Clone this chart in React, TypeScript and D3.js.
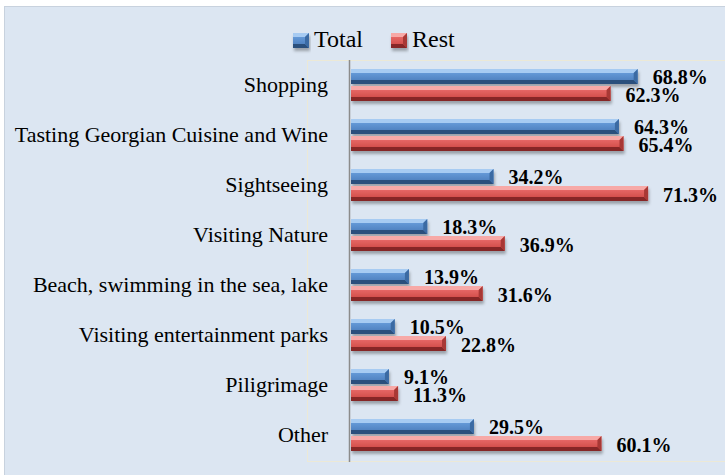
import React from "react";
import * as d3 from "d3";

const categories = [
  "Shopping",
  "Tasting Georgian Cuisine and Wine",
  "Sightseeing",
  "Visiting Nature",
  "Beach, swimming in the sea, lake",
  "Visiting entertainment parks",
  "Piligrimage",
  "Other",
];
const seriesNames = ["Total", "Rest"];
const totalValues = [68.8, 64.3, 34.2, 18.3, 13.9, 10.5, 9.1, 29.5];
const restValues = [62.3, 65.4, 71.3, 36.9, 31.6, 22.8, 11.3, 60.1];

const W = 725;
const H = 475;
const FONT = '"Liberation Serif", "DejaVu Serif", serif';

const palettes: Record<string, any> = {
  Total: {
    edgeTop: "#a7cbf2",
    faceTop: "#6fa5e3",
    faceBot: "#4677b6",
    edgeBot: "#2c4f7c",
    right: "#3b6aa3",
  },
  Rest: {
    edgeTop: "#f7a9a7",
    faceTop: "#f07472",
    faceBot: "#c9423f",
    edgeBot: "#862826",
    right: "#a83734",
  },
};

function BevelRect({ x0, x1, y, h, name }: any) {
  const p = palettes[name];
  const b = Math.min(4, (x1 - x0) / 2, h / 3);
  const pts = (a: number[][]) => a.map((q) => q.join(",")).join(" ");
  return (
    <g filter="url(#shadow)">
      <rect x={x0} y={y} width={x1 - x0} height={h} fill={`url(#face-${name})`} />
      <polygon
        points={pts([[x0, y], [x1, y], [x1 - b, y + b], [x0, y + b]])}
        fill={p.edgeTop}
      />
      <polygon
        points={pts([[x0, y + h], [x1, y + h], [x1 - b, y + h - b], [x0, y + h - b]])}
        fill={p.edgeBot}
      />
      <polygon
        points={pts([[x1, y], [x1, y + h], [x1 - b, y + h - b], [x1 - b, y + b]])}
        fill={p.right}
      />
    </g>
  );
}

export default function App() {
  const x = d3.scaleLinear().domain([0, 90]).range([351, 726]);
  const y = d3
    .scaleBand<string>()
    .domain(categories)
    .range([60, 460])
    .paddingInner(0.36)
    .paddingOuter(0.18);
  const inner = d3
    .scaleBand<string>()
    .domain(seriesNames)
    .range([0, y.bandwidth()])
    .paddingInner(0.12);

  const data = [totalValues, restValues];
  const textStyle = { fontFamily: FONT };

  return (
    <svg
      width={W}
      height={H}
      style={{ position: "absolute", left: 0, top: 0, fontFamily: FONT }}
    >
      <defs>
        {seriesNames.map((n) => (
          <linearGradient key={n} id={`face-${n}`} x1="0" y1="0" x2="0" y2="1">
            <stop offset="0" stopColor={palettes[n].faceTop} />
            <stop offset="1" stopColor={palettes[n].faceBot} />
          </linearGradient>
        ))}
        <filter id="shadow" x="-10%" y="-50%" width="120%" height="220%">
          <feDropShadow dx="1" dy="3" stdDeviation="1.6" floodColor="#000" floodOpacity="0.3" />
        </filter>
      </defs>
      <rect x={4.5} y={6.5} width={W} height={H} fill="#dce6f2" stroke="#c8d2de" strokeWidth={1} />
      {/* plot area border */}
      <rect x={307.5} y={60.5} width={430} height={401} fill="none" stroke="#ece9d6" strokeWidth={1} />

      {/* legend */}
      <g>
        <BevelRect x0={293} x1={309} y={33} h={15} name="Total" />
        <text x={314} y={47} fontSize={24} fill="#000" style={textStyle}>Total</text>
        <BevelRect x0={391} x1={407} y={33} h={15} name="Rest" />
        <text x={412} y={47} fontSize={24} fill="#000" style={textStyle}>Rest</text>
      </g>

      {/* category labels */}
      {categories.map((c) => (
        <text
          key={c}
          x={328}
          y={(y(c) as number) + y.bandwidth() / 2 + 7}
          textAnchor="end"
          fontSize={22}
          fill="#000"
          style={textStyle}
        >
          {c}
        </text>
      ))}

      {/* bars */}
      {categories.map((c, i) =>
        seriesNames.map((s, k) => {
          const v = data[k][i];
          const by = (y(c) as number) + (inner(s) as number);
          const bh = inner.bandwidth();
          return (
            <BevelRect key={c + s} x0={x(0)} x1={x(v)} y={by} h={bh} name={s} />
          );
        })
      )}

      {/* axis line */}
      <line x1={349.5} x2={349.5} y1={60} y2={462} stroke="#8c8c8c" strokeWidth={1.5} />

      {/* value labels */}
      {categories.map((c, i) =>
        seriesNames.map((s, k) => {
          const v = data[k][i];
          const by = (y(c) as number) + (inner(s) as number);
          const bh = inner.bandwidth();
          return (
            <text
              key={"l" + c + s}
              x={x(v) + 15}
              y={by + bh / 2 + 8}
              fontSize={20}
              fontWeight="bold"
              fill="#000"
              style={textStyle}
            >
              {v.toFixed(1)}%
            </text>
          );
        })
      )}
    </svg>
  );
}
